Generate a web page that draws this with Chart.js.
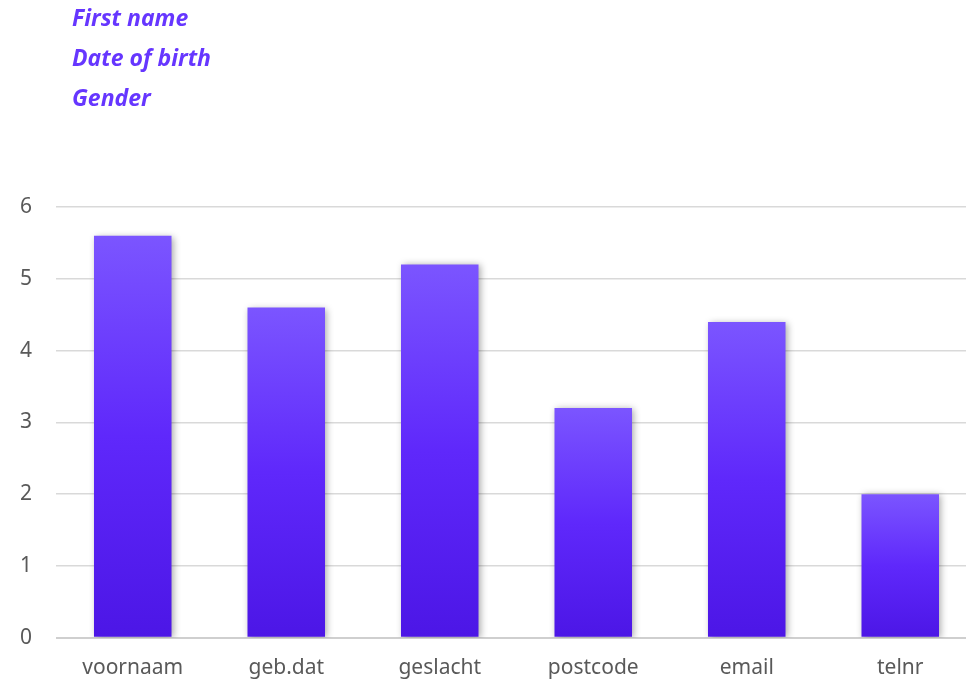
<!DOCTYPE html>
<html>
<head>
<meta charset="utf-8">
<script src="https://cdn.jsdelivr.net/npm/chart.js@4/dist/chart.umd.min.js"></script>
<style>
  html, body { margin: 0; padding: 0; background: #ffffff; overflow: hidden; }
  #wrap { position: relative; width: 981px; height: 694px; }
  .field {
    position: absolute; left: 72px;
    font-family: "Open Sans", "Lato", sans-serif;
    font-style: italic; font-weight: 700; font-size: 23px;
    color: #6636ff; line-height: 1; white-space: nowrap;
  }
</style>
</head>
<body>
<div id="wrap">
  <div class="field" style="top:6px">First name</div>
  <div class="field" style="top:46px">Date of birth</div>
  <div class="field" style="top:86px">Gender</div>
  <canvas id="c" width="981" height="694"></canvas>
</div>
<script>
const categories = ['voornaam', 'geb.dat', 'geslacht', 'postcode', 'email', 'telnr'];
const counts = [5.6, 4.6, 5.2, 3.2, 4.4, 2];
const yTicks = [0, 1, 2, 3, 4, 5, 6];

// Each bar fades from light violet at its top to deep violet at its base
function barGradient(ctx) {
  const chart = ctx.chart;
  if (!chart.chartArea || ctx.type !== 'data') return '#6030ff';
  const y = chart.scales.y;
  const top = y.getPixelForValue(counts[ctx.dataIndex]);
  const base = y.getPixelForValue(0);
  const g = chart.ctx.createLinearGradient(0, top, 0, base);
  g.addColorStop(0, '#7b55ff');
  g.addColorStop(0.5, '#5f28fb');
  g.addColorStop(1, '#4c16e6');
  return g;
}

// Soft drop shadow behind the bars
const barShadow = {
  id: 'barShadow',
  beforeDatasetsDraw(chart) {
    const c = chart.ctx;
    c.save();
    c.shadowColor = 'rgba(0,0,0,0.35)';
    c.shadowBlur = 7;
    c.shadowOffsetX = 2;
    c.shadowOffsetY = 1;
  },
  afterDatasetsDraw(chart) {
    chart.ctx.restore();
  }
};

new Chart(document.getElementById('c'), {
  type: 'bar',
  data: {
    labels: categories,
    datasets: [{
      data: counts,
      backgroundColor: barGradient,
      borderWidth: 0,
      barPercentage: 1,
      categoryPercentage: 0.505
    }]
  },
  options: {
    responsive: false,
    animation: false,
    layout: { padding: { top: 207, right: 4, left: 0, bottom: 3 } },
    plugins: { legend: { display: false }, tooltip: { enabled: false } },
    scales: {
      x: {
        grid: { display: false },
        border: { display: false },
        ticks: { color: '#595959', font: { family: 'Noto Sans', size: 21 }, padding: 10 }
      },
      y: {
        min: 0, max: 6,
        afterBuildTicks(axis) { axis.ticks = yTicks.map(v => ({ value: v })); },
        afterFit(axis) { axis.width = 56; },
        grid: {
          color: (c) => c.tick && c.tick.value === 0 ? '#cfcfcf' : '#d9d9d9',
          lineWidth: (c) => c.tick && c.tick.value === 0 ? 2 : 1.5,
          drawTicks: false
        },
        border: { display: false },
        ticks: { color: '#595959', font: { family: 'Noto Sans', size: 21 }, padding: 24 }
      }
    }
  },
  plugins: [barShadow]
});
</script>
</body>
</html>
